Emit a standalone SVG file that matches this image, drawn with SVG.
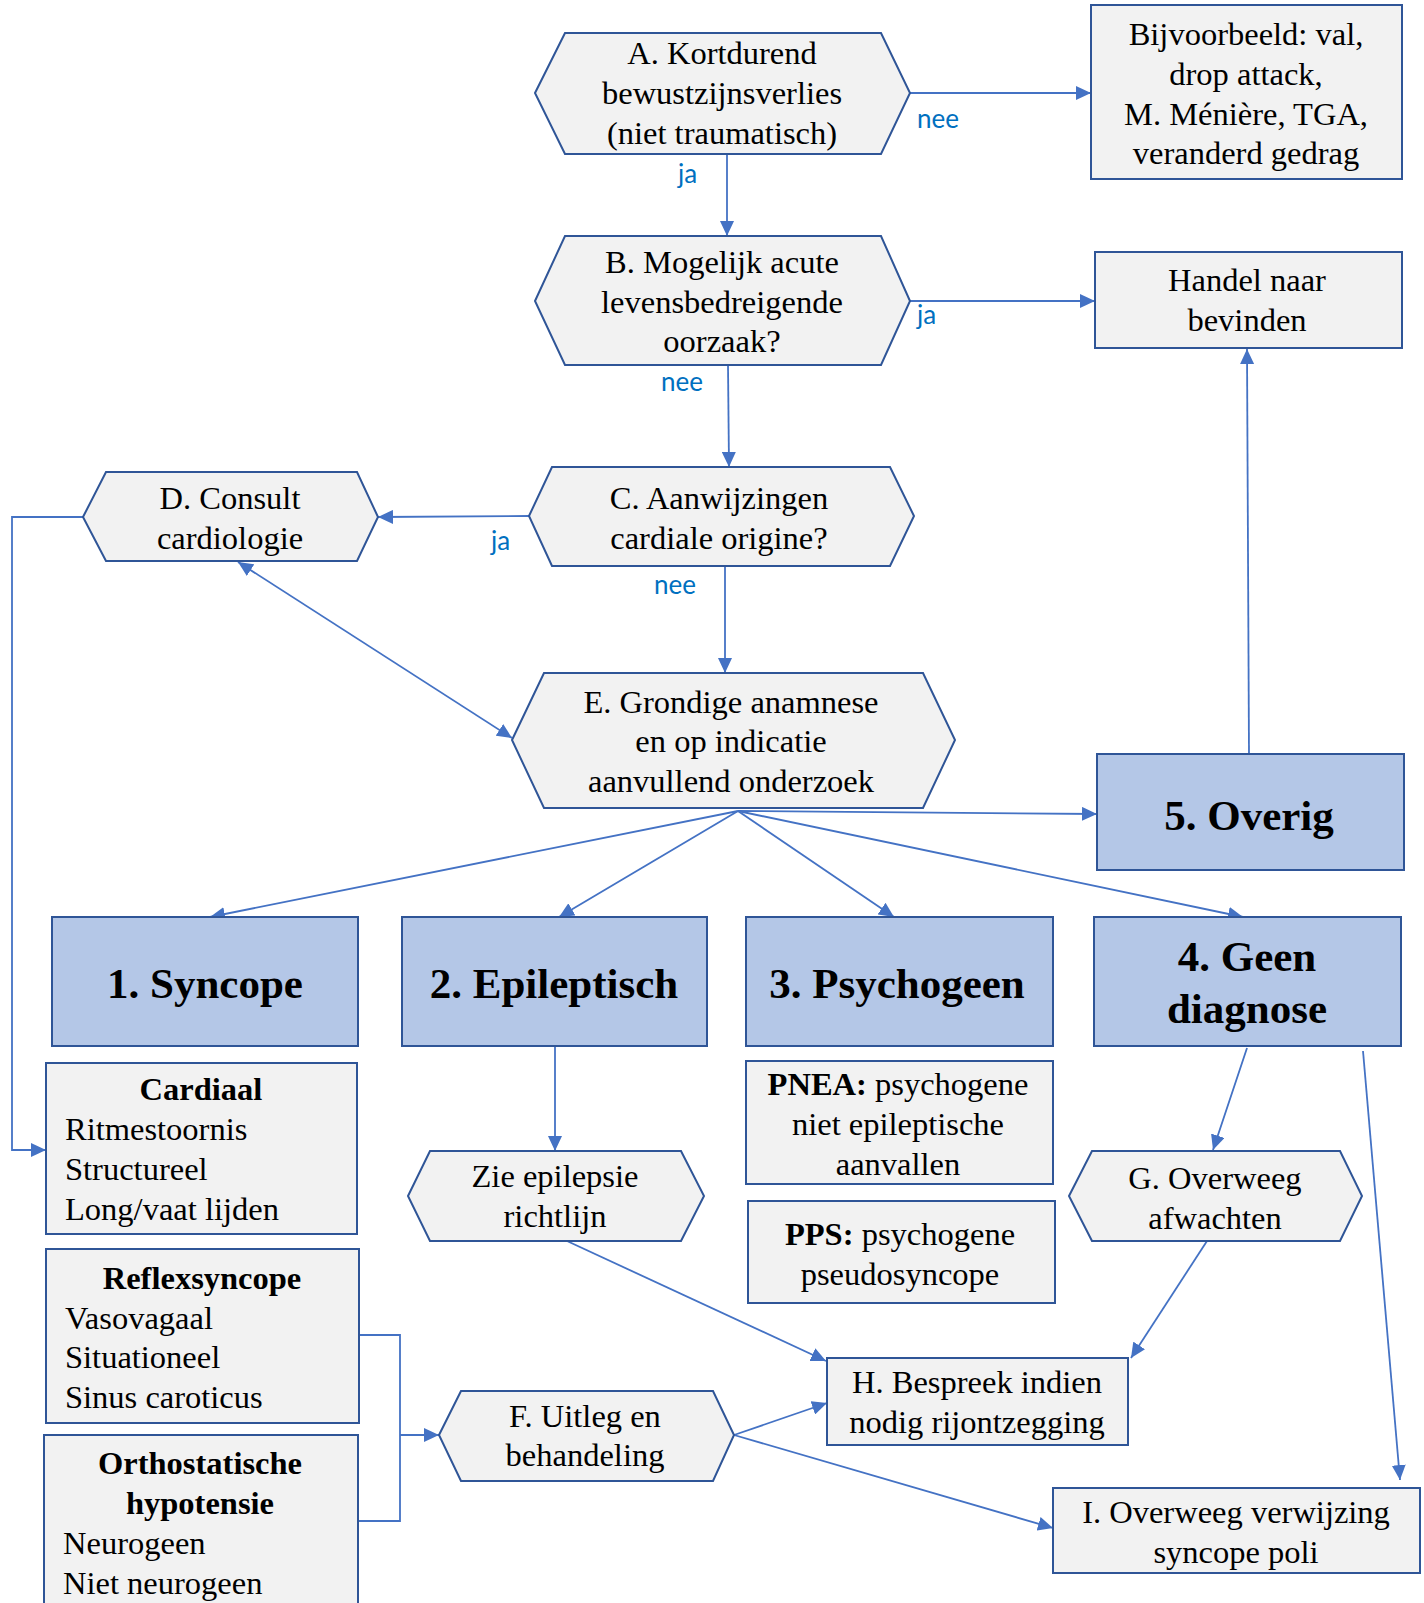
<svg xmlns="http://www.w3.org/2000/svg" width="1424" height="1603" viewBox="0 0 1424 1603">
<style>
.n{fill:#f2f2f2;stroke:#2f5597;stroke-width:2}
.b{fill:#b4c7e7;stroke:#2f5597;stroke-width:2}
.t{font-family:"Liberation Serif","Times New Roman",serif;font-size:32.5px;fill:#000}
.c{text-anchor:middle}
.h{font-family:"Liberation Serif","Times New Roman",serif;font-size:43px;font-weight:bold;fill:#000;text-anchor:middle}
.bo{font-weight:bold}
.l{font-family:Lato,"Open Sans",sans-serif;font-size:26px;fill:#0070c0}
.e{fill:none;stroke:#4472c4;stroke-width:1.8}
</style>
<defs>
<marker id="ar" markerUnits="userSpaceOnUse" markerWidth="16" markerHeight="14" refX="15" refY="7" orient="auto-start-reverse">
<path d="M0,0 L15,7 L0,14 z" fill="#4472c4"/>
</marker>
</defs>
<rect width="1424" height="1603" fill="#fff"/>

<g id="connectors">
<line class="e" x1="910" y1="93" x2="1091" y2="93" marker-end="url(#ar)"/>
<line class="e" x1="727" y1="154" x2="727" y2="236" marker-end="url(#ar)"/>
<line class="e" x1="910" y1="301" x2="1095" y2="301" marker-end="url(#ar)"/>
<line class="e" x1="728" y1="365" x2="729" y2="467" marker-end="url(#ar)"/>
<line class="e" x1="529" y1="516" x2="378" y2="517" marker-end="url(#ar)"/>
<polyline class="e" points="83,517 12,517 12,1150 46,1150" marker-end="url(#ar)"/>
<line class="e" x1="725" y1="566" x2="725" y2="673" marker-end="url(#ar)"/>
<line class="e" x1="238" y1="562" x2="512" y2="738" marker-start="url(#ar)" marker-end="url(#ar)"/>
<line class="e" x1="738" y1="811" x2="210" y2="917" marker-end="url(#ar)"/>
<line class="e" x1="738" y1="811" x2="559" y2="917" marker-end="url(#ar)"/>
<line class="e" x1="738" y1="811" x2="894" y2="917" marker-end="url(#ar)"/>
<line class="e" x1="738" y1="811" x2="1243" y2="917" marker-end="url(#ar)"/>
<line class="e" x1="738" y1="811" x2="1097" y2="814" marker-end="url(#ar)"/>
<line class="e" x1="1249" y1="754" x2="1247" y2="349" marker-end="url(#ar)"/>
<line class="e" x1="555" y1="1046" x2="555" y2="1151" marker-end="url(#ar)"/>
<line class="e" x1="567" y1="1241" x2="826" y2="1361" marker-end="url(#ar)"/>
<line class="e" x1="1247" y1="1048" x2="1213" y2="1150" marker-end="url(#ar)"/>
<line class="e" x1="1207" y1="1241" x2="1131" y2="1358" marker-end="url(#ar)"/>
<line class="e" x1="1363" y1="1051" x2="1400" y2="1480" marker-end="url(#ar)"/>
<polyline class="e" points="359,1335 400,1335 400,1521 358,1521"/>
<line class="e" x1="400" y1="1435" x2="439" y2="1435" marker-end="url(#ar)"/>
<line class="e" x1="734" y1="1435" x2="827" y2="1403" marker-end="url(#ar)"/>
<line class="e" x1="734" y1="1435" x2="1053" y2="1528" marker-end="url(#ar)"/>
<text class="l" x="917" y="128">nee</text>
<text class="l" x="678" y="183">ja</text>
<text class="l" x="917" y="324">ja</text>
<text class="l" x="661" y="391">nee</text>
<text class="l" x="491" y="550">ja</text>
<text class="l" x="654" y="594">nee</text>
</g>

<g id="nodeA">
<polygon class="n" points="535,93 565,33 881,33 910,93 881,154 565,154"/>
<text class="t c" x="722" y="64">A. Kortdurend</text>
<text class="t c" x="722" y="104">bewustzijnsverlies</text>
<text class="t c" x="722" y="144">(niet traumatisch)</text>
</g>
<g id="nodeBijv">
<rect class="n" x="1091" y="5" width="311" height="174"/>
<text class="t c" x="1246" y="45">Bijvoorbeeld: val,</text>
<text class="t c" x="1246" y="85">drop attack,</text>
<text class="t c" x="1246" y="125">M. Ménière, TGA,</text>
<text class="t c" x="1246" y="164">veranderd gedrag</text>
</g>
<g id="nodeB">
<polygon class="n" points="535,301 565,236 881,236 910,301 881,365 565,365"/>
<text class="t c" x="722" y="273">B. Mogelijk acute</text>
<text class="t c" x="722" y="313">levensbedreigende</text>
<text class="t c" x="722" y="352">oorzaak?</text>
</g>
<g id="nodeHandel">
<rect class="n" x="1095" y="252" width="307" height="96"/>
<text class="t c" x="1247" y="291">Handel naar</text>
<text class="t c" x="1247" y="331">bevinden</text>
</g>
<g id="nodeC">
<polygon class="n" points="529,516 552,467 890,467 914,516 890,566 552,566"/>
<text class="t c" x="719" y="509">C. Aanwijzingen</text>
<text class="t c" x="719" y="549">cardiale origine?</text>
</g>
<g id="nodeD">
<polygon class="n" points="83,517 106,472 357,472 378,517 357,561 106,561"/>
<text class="t c" x="230" y="509">D. Consult</text>
<text class="t c" x="230" y="549">cardiologie</text>
</g>
<g id="nodeE">
<polygon class="n" points="512,740 544,673 923,673 955,740 923,808 544,808"/>
<text class="t c" x="731" y="713">E. Grondige anamnese</text>
<text class="t c" x="731" y="752">en op indicatie</text>
<text class="t c" x="731" y="792">aanvullend onderzoek</text>
</g>
<g id="node5">
<rect class="b" x="1097" y="754" width="307" height="116"/>
<text class="h" x="1249" y="830">5. Overig</text>
</g>
<g id="node1">
<rect class="b" x="52" y="917" width="306" height="129"/>
<text class="h" x="205" y="998">1. Syncope</text>
</g>
<g id="node2">
<rect class="b" x="402" y="917" width="305" height="129"/>
<text class="h" x="554" y="998">2. Epileptisch</text>
</g>
<g id="node3">
<rect class="b" x="746" y="917" width="307" height="129"/>
<text class="h" x="897" y="998">3. Psychogeen</text>
</g>
<g id="node4">
<rect class="b" x="1094" y="917" width="307" height="129"/>
<text class="h" x="1247" y="971">4. Geen</text>
<text class="h" x="1247" y="1023">diagnose</text>
</g>
<g id="nodeCardiaal">
<rect class="n" x="46" y="1063" width="311" height="171"/>
<text class="t c bo" x="201" y="1100">Cardiaal</text>
<text class="t" x="65" y="1140">Ritmestoornis</text>
<text class="t" x="65" y="1180">Structureel</text>
<text class="t" x="65" y="1220">Long/vaat lijden</text>
</g>
<g id="nodeReflex">
<rect class="n" x="46" y="1249" width="313" height="174"/>
<text class="t c bo" x="202" y="1289">Reflexsyncope</text>
<text class="t" x="65" y="1329">Vasovagaal</text>
<text class="t" x="65" y="1368">Situationeel</text>
<text class="t" x="65" y="1408">Sinus caroticus</text>
</g>
<g id="nodeOrtho">
<rect class="n" x="44" y="1435" width="314" height="190"/>
<text class="t c bo" x="200" y="1474">Orthostatische</text>
<text class="t c bo" x="200" y="1514">hypotensie</text>
<text class="t" x="63" y="1554">Neurogeen</text>
<text class="t" x="63" y="1594">Niet neurogeen</text>
</g>
<g id="nodeZie">
<polygon class="n" points="408,1196 430,1151 681,1151 704,1196 681,1241 430,1241"/>
<text class="t c" x="555" y="1187">Zie epilepsie</text>
<text class="t c" x="555" y="1227">richtlijn</text>
</g>
<g id="nodePNEA">
<rect class="n" x="746" y="1061" width="307" height="123"/>
<text class="t c" x="898" y="1095"><tspan class="bo">PNEA:</tspan> psychogene</text>
<text class="t c" x="898" y="1135">niet epileptische</text>
<text class="t c" x="898" y="1175">aanvallen</text>
</g>
<g id="nodePPS">
<rect class="n" x="748" y="1201" width="307" height="102"/>
<text class="t c" x="900" y="1245"><tspan class="bo">PPS:</tspan> psychogene</text>
<text class="t c" x="900" y="1285">pseudosyncope</text>
</g>
<g id="nodeG">
<polygon class="n" points="1069,1196 1092,1151 1340,1151 1362,1196 1340,1241 1092,1241"/>
<text class="t c" x="1215" y="1189">G. Overweeg</text>
<text class="t c" x="1215" y="1229">afwachten</text>
</g>
<g id="nodeF">
<polygon class="n" points="439,1435 461,1391 713,1391 734,1435 713,1481 461,1481"/>
<text class="t c" x="585" y="1427">F. Uitleg en</text>
<text class="t c" x="585" y="1466">behandeling</text>
</g>
<g id="nodeH">
<rect class="n" x="827" y="1358" width="301" height="87"/>
<text class="t c" x="977" y="1393">H. Bespreek indien</text>
<text class="t c" x="977" y="1433">nodig rijontzegging</text>
</g>
<g id="nodeI">
<rect class="n" x="1053" y="1488" width="367" height="85"/>
<text class="t c" x="1236" y="1523">I. Overweeg verwijzing</text>
<text class="t c" x="1236" y="1563">syncope poli</text>
</g>
</svg>
